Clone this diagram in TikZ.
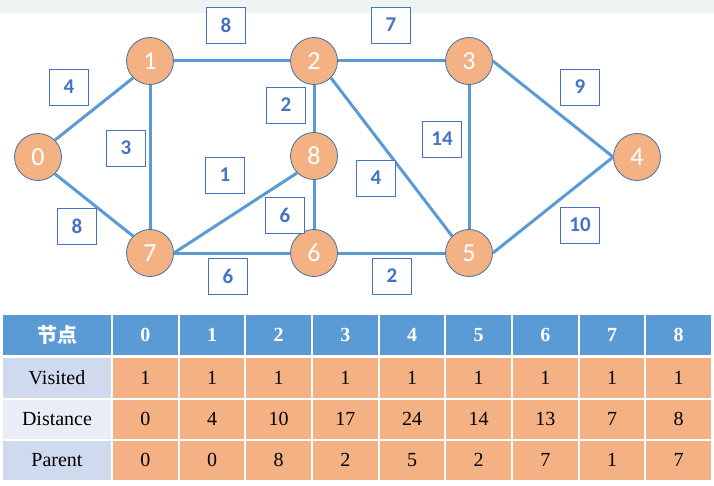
\documentclass[tikz,border=0pt]{standalone}
\usepackage{fontspec}
\setmainfont{Liberation Serif}
\newfontfamily\calib{Carlito}
\newfontfamily\cjk{Noto Sans CJK SC}
\definecolor{topgrey}{HTML}{EEF3F3}
\definecolor{norange}{HTML}{F4B183}
\definecolor{nborder}{HTML}{41719C}
\definecolor{eblue}{HTML}{5B9BD5}
\definecolor{lblue}{HTML}{4472C4}
\definecolor{rowA}{HTML}{D0DAEE}
\definecolor{rowB}{HTML}{E9EDF6}
\tikzset{
  gnode/.style={circle, minimum size=47pt, inner sep=0pt, fill=norange, draw=nborder, line width=0.8pt,
    text=white, font=\calib\fontsize{26}{26}\selectfont},
  wbox/.style={rectangle, minimum width=39pt, minimum height=36pt, inner sep=0pt, fill=white, draw=lblue,
    line width=0.8pt, text=lblue, font=\calib\bfseries\fontsize{21}{21}\selectfont},
  edge/.style={draw=eblue, line width=3pt},
  cell/.style={rectangle, inner sep=0pt, draw=white, line width=2pt, font=\fontsize{20}{24}\selectfont,
    minimum width=66.667pt},
  hcell/.style={cell, fill=eblue, text=white, font=\bfseries\fontsize{20}{24}\selectfont, minimum height=42pt},
  dcell/.style={cell, fill=norange, text=black}
}
\begin{document}
\begin{tikzpicture}[x=1pt,y=-1pt]
\useasboundingbox (0,0) rectangle (714,486);
\fill[topgrey] (0,0) rectangle (714,13);
% graph nodes
\node[gnode] (n0) at (38,157) {0};
\node[gnode] (n1) at (150,61) {1};
\node[gnode] (n2) at (314,61) {2};
\node[gnode] (n3) at (469,61) {3};
\node[gnode] (n4) at (637,157) {4};
\node[gnode] (n5) at (469,253) {5};
\node[gnode] (n6) at (314,253) {6};
\node[gnode] (n7) at (150,253) {7};
\node[gnode] (n8) at (314,156) {8};
% edges
\draw[edge] (n0.north east) -- (n1.south west);
\draw[edge] (n0.south east) -- (n7.north west);
\draw[edge] (n1.east) -- (n2.west);
\draw[edge] (n1.south) -- (n7.north);
\draw[edge] (n2.east) -- (n3.west);
\draw[edge] (n2.south) -- (n8.north);
\draw[edge] (n2.south east) -- (n5.north west);
\draw[edge] (n7.east) -- (n8.south west);
\draw[edge] (n8.south) -- (n6.north);
\draw[edge] (n7.east) -- (n6.west);
\draw[edge] (n6.east) -- (n5.west);
\draw[edge] (n3.south) -- (n5.north);
\draw[edge] (n3.east) -- (n4.west);
\draw[edge] (n5.east) -- (n4.west);
% weights
\node[wbox] (w12) at (226,25) {8};
\node[wbox] (w23) at (391,25) {7};
\node[wbox] (w01) at (69,87) {4};
\node[wbox] (w17) at (126,148) {3};
\node[wbox] (w07) at (77,226) {8};
\node[wbox] (w28) at (286,105) {2};
\node[wbox] (w78) at (225,175) {1};
\node[wbox] (w86) at (285,215) {6};
\node[wbox] (w76) at (228,276) {6};
\node[wbox] (w25) at (376,178) {4};
\node[wbox] (w35) at (442,139) {14};
\node[wbox] (w34) at (580,87) {9};
\node[wbox] (w54) at (580,225) {10};
\node[wbox] (w65) at (392,276) {2};
% table
\node[hcell, minimum width=110pt] (th) at (57,335) {\cjk\bfseries 节点};
\foreach \v [count=\k from 0] in {0,...,8}
  \node[hcell] (th\k) at ({112+66.667*(\k+0.5)},335) {\v};
\node[cell, fill=rowA, minimum width=110pt, minimum height=41.5pt] (tv) at (57,377.75) {Visited};
\node[cell, fill=rowB, minimum width=110pt, minimum height=41pt] (td) at (57,419) {Distance};
\node[cell, fill=rowA, minimum width=110pt, minimum height=41.5pt] (tp) at (57,460.25) {Parent};
\foreach \v [count=\k from 0] in {1,1,1,1,1,1,1,1,1}
  \node[dcell, minimum height=41.5pt] (tv\k) at ({112+66.667*(\k+0.5)},377.75) {\v};
\foreach \v [count=\k from 0] in {0,4,10,17,24,14,13,7,8}
  \node[dcell, minimum height=41pt] (td\k) at ({112+66.667*(\k+0.5)},419) {\v};
\foreach \v [count=\k from 0] in {0,0,8,2,5,2,7,1,7}
  \node[dcell, minimum height=41.5pt] (tp\k) at ({112+66.667*(\k+0.5)},460.25) {\v};
\end{tikzpicture}
\end{document}
